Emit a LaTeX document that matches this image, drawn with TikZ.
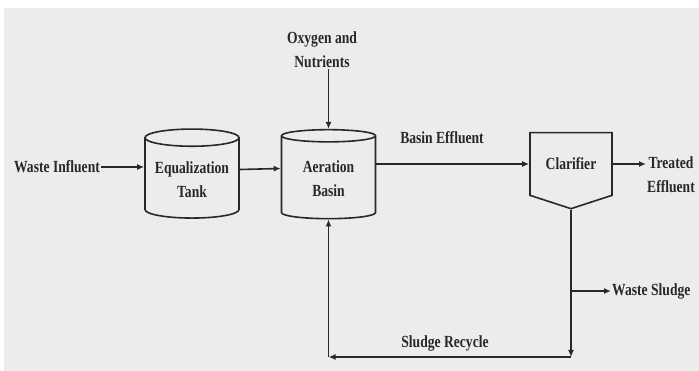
\documentclass[tikz,border=0pt]{standalone}
\usepackage{fontspec}
\setmainfont[FakeStretch=0.8]{Liberation Serif}
\usetikzlibrary{shapes.geometric, shapes.symbols, arrows.meta, positioning}
\definecolor{paper}{RGB}{236,236,236}
\definecolor{ink}{RGB}{40,40,40}
\tikzstyle{tank} = [cylinder, shape border rotate=90, aspect=0.22, draw=ink, line width=1.6pt, minimum width=94pt, minimum height=89pt, align=center, inner sep=2pt]
\tikzstyle{settler} = [signal, signal to=south, signal pointer angle=144, draw=ink, line width=1.6pt, minimum width=82pt, minimum height=72pt, align=center]
\tikzstyle{tag} = [align=center, inner sep=1pt]
\tikzstyle{arrow} = [draw=ink, line width=1.6pt, -{Latex[length=7pt,width=6pt]}]

\begin{document}
\begin{tikzpicture}[x=1pt, y=-1pt, every node/.style={font=\bfseries\fontsize{17}{24}\selectfont, text=ink}]

        % Background
        \fill[white] (0,0) rectangle (699,371);
        \fill[paper] (4,8) rectangle (699,371);
        \useasboundingbox (0,0) rectangle (699,371);

        % Nodes
        \node (infl) [tag] at (57,167) {Waste Influent};
        \node (eq) [tank] at (192,179.5) {Equalization\\Tank};
        \node (aer) [tank] at (328.5,178.5) {Aeration\\Basin};
        \node (oxy) [tag] at (322,50) {Oxygen and\\Nutrients};
        \node (clar) [settler] at (571,164) {Clarifier};
        \node (treat) [tag, anchor=west] at (646,175) {Treated\\Effluent};
        \node (wsl) [tag, anchor=west] at (611,291) {Waste Sludge};
        \node (eff) [tag] at (442,138) {Basin Effluent};
        \node (rec) [tag] at (445,343) {Sludge Recycle};
        \coordinate (c1) at (clar.south |- 0,357);
        \coordinate (c2) at (aer.south |- c1);

        % Arrows
        \draw [arrow] (infl.east) -- (infl.east -| eq.west);
        \draw [arrow] ([yshift=10pt]eq.east) -- ([yshift=10pt]aer.west);
        \draw [arrow] (oxy.south -| aer.north) -- (aer.north);
        \draw [arrow] (aer.east |- clar.west) -- (clar.west);
        \draw [arrow] (clar.east) -- (clar.east -| treat.west);
        \draw [arrow] (clar.south) -- (c1);
        \draw [arrow] (clar.south |- wsl.west) -- (wsl.west);
        \draw [arrow] (c1) -- (c2);
        \draw [arrow] (c2) -- (aer.south);

\end{tikzpicture}
\end{document}
